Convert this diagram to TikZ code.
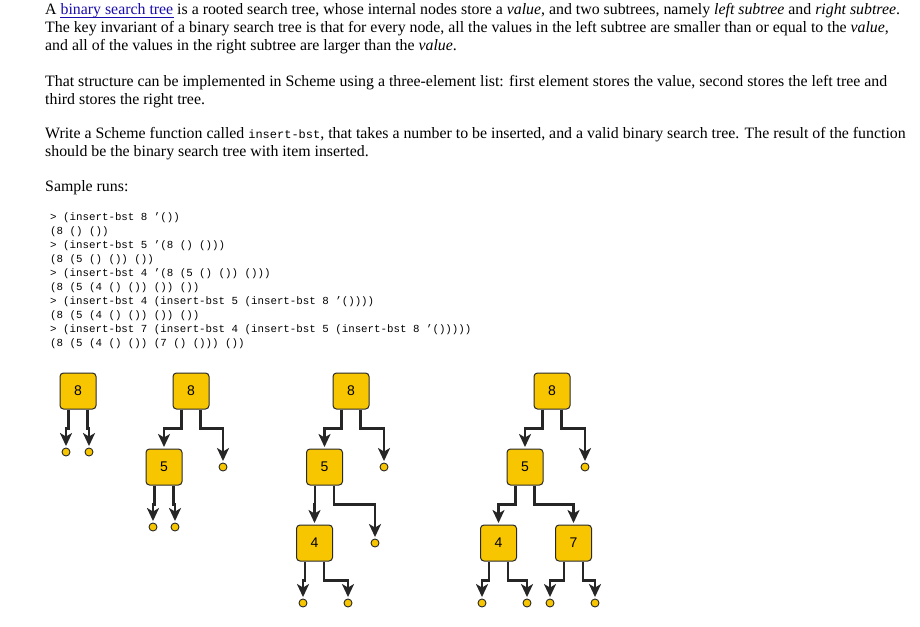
\documentclass[tikz,border=0pt]{standalone}
\usepackage{fontspec}
\setmainfont{Liberation Serif}
\setsansfont{Liberation Sans}
\setmonofont{Liberation Mono}
\usetikzlibrary{arrows.meta}
\definecolor{gold}{HTML}{F7C600}
\definecolor{edge}{HTML}{2A2A2A}
\definecolor{linkblue}{HTML}{1A0DAB}
\tikzset{
  txt/.style={anchor=base west, inner sep=0pt, font=\fontsize{15.85}{18}\selectfont},
  code/.style={anchor=base west, inner sep=0pt, font=\ttfamily\fontsize{10.8}{12}\selectfont},
  bbox/.style={draw=edge, line width=1pt, fill=gold, rounded corners=3.5pt, minimum size=36pt, inner sep=0pt, font=\sffamily\fontsize{14}{16}\selectfont},
  nil/.style={circle, draw=edge, line width=0.9pt, fill=gold, minimum size=8pt, inner sep=0pt},
  leg/.style={draw=black!85, line width=2.2pt, -{Stealth[length=13pt,width=12pt,inset=3.5pt]}, shorten >=1.5pt},
}
\newcommand{\Lnk}[1]{\textcolor{linkblue}{#1}}
\newcommand{\legL}[2]{\draw[leg] ([xshift=-9.5pt]#1.south) -- ++(0,19) -| (#2.north);}
\newcommand{\legR}[2]{\draw[leg] ([xshift=9.5pt]#1.south) -- ++(0,19) -| (#2.north);}
\begin{document}
\begin{tikzpicture}[x=1pt,y=-1pt]
\useasboundingbox[fill=white] (0,0) rectangle (920,626);
\node[txt] (l1) at (45,14.5) {A \Lnk{binary search tree} is a rooted search tree, whose internal nodes store a \textit{value}, and two subtrees, namely \textit{left subtree} and \textit{right subtree}.};
\draw[linkblue, line width=0.8pt] (60,17.5) -- (174,17.5);
\node[txt] (l2) at (45,32.5) {The key invariant of a binary search tree is that for every node, all the values in the left subtree are smaller than or equal to the \textit{value},};
\node[txt] (l3) at (45,50.5) {and all of the values in the right subtree are larger than the \textit{value}.};
\node[txt] (l4) at (45,86) {That structure can be implemented in Scheme using a three-element list: first element stores the value, second stores the left tree and};
\node[txt] (l5) at (45,104) {third stores the right tree.};
\node[txt] (l6) at (45,138) {Write a Scheme function called {\ttfamily\fontsize{12}{12}\selectfont insert-bst}, that takes a number to be inserted, and a valid binary search tree. The result of the function};
\node[txt] (l7) at (45,156) {should be the binary search tree with item inserted.};
\node[txt] (l8) at (45,191) {Sample runs:};
\node[code] (c1) at (50,220) {> (insert-bst 8 ’())};
\node[code] (c2) at (50,234.1) {(8 () ())};
\node[code] (c3) at (50,248.2) {> (insert-bst 5 ’(8 () ()))};
\node[code] (c4) at (50,262.3) {(8 (5 () ()) ())};
\node[code] (c5) at (50,276.4) {> (insert-bst 4 ’(8 (5 () ()) ()))};
\node[code] (c6) at (50,290.5) {(8 (5 (4 () ()) ()) ())};
\node[code] (c7) at (50,304.6) {> (insert-bst 4 (insert-bst 5 (insert-bst 8 ’())))};
\node[code] (c8) at (50,318.7) {(8 (5 (4 () ()) ()) ())};
\node[code] (c9) at (50,332.8) {> (insert-bst 7 (insert-bst 4 (insert-bst 5 (insert-bst 8 ’()))))};
\node[code] (c10) at (50,346.9) {(8 (5 (4 () ()) (7 () ())) ())};
% tree 1
\node[bbox] (a8) at (78,391) {8};
\node[nil] (a8l) at (66,452) {};
\node[nil] (a8r) at (89,452) {};
\legL{a8}{a8l} \legR{a8}{a8r}
% tree 2
\node[bbox] (b8) at (191,391) {8};
\node[bbox] (b5) at (164,467) {5};
\node[nil] (b8r) at (223,467) {};
\node[nil] (b5l) at (153,527) {};
\node[nil] (b5r) at (175,527) {};
\legL{b8}{b5} \legR{b8}{b8r} \legL{b5}{b5l} \legR{b5}{b5r}
% tree 3
\node[bbox] (c8n) at (351,391) {8};
\node[bbox] (c5n) at (324.5,467) {5};
\node[nil] (c8r) at (384,467) {};
\node[bbox] (c4n) at (314.5,543) {4};
\node[nil] (c5r) at (375,543) {};
\node[nil] (c4l) at (303,603) {};
\node[nil] (c4r) at (348,603) {};
\legL{c8n}{c5n} \legR{c8n}{c8r} \legL{c5n}{c4n} \legR{c5n}{c5r} \legL{c4n}{c4l} \legR{c4n}{c4r}
% tree 4
\node[bbox] (d8) at (552,391) {8};
\node[bbox] (d5) at (525,467) {5};
\node[nil] (d8r) at (585,467) {};
\node[bbox] (d4) at (498.5,543) {4};
\node[bbox] (d7) at (573.5,543) {7};
\node[nil] (d4l) at (482,603) {};
\node[nil] (d4r) at (527,603) {};
\node[nil] (d7l) at (550,603) {};
\node[nil] (d7r) at (595,603) {};
\legL{d8}{d5} \legR{d8}{d8r} \legL{d5}{d4} \legR{d5}{d7} \legL{d4}{d4l} \legR{d4}{d4r} \legL{d7}{d7l} \legR{d7}{d7r}
\end{tikzpicture}
\end{document}
